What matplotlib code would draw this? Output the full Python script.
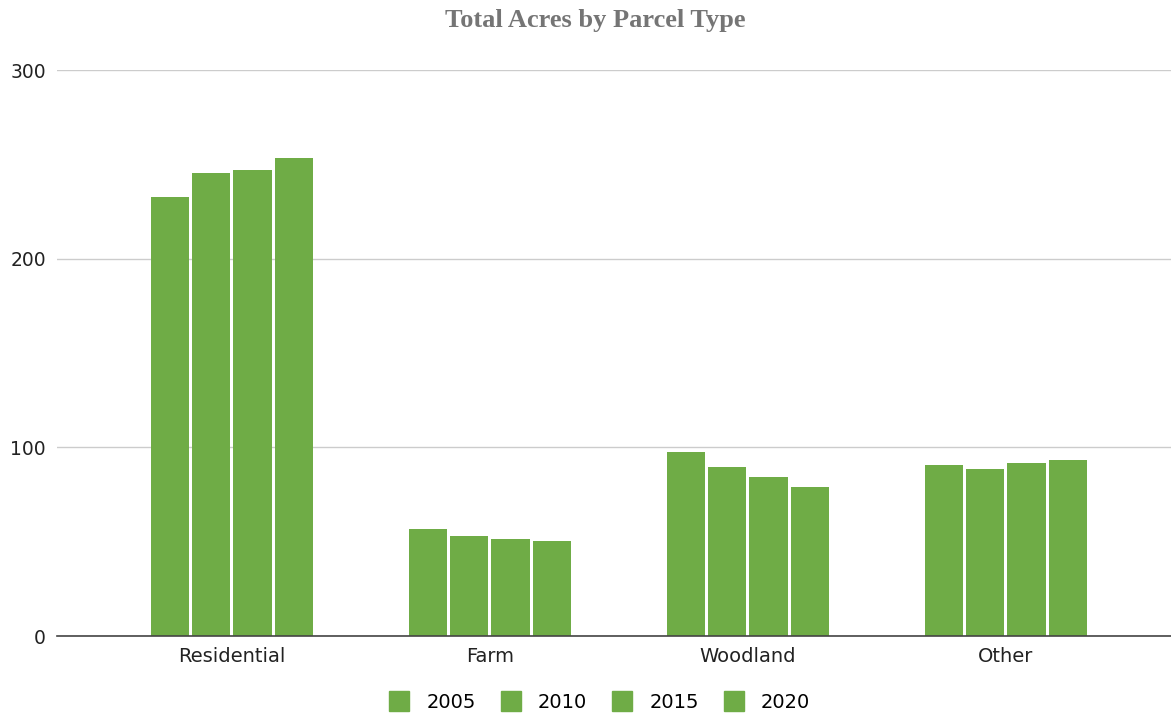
import numpy as np
import matplotlib.pyplot as plt

categories = ["Residential", "Farm", "Woodland", "Other"]
years = ["2005", "2010", "2015", "2020"]
acres_2005 = [232.7, 56.7, 97.5, 90.6]
acres_2010 = [245.2, 53.1, 89.6, 88.7]
acres_2015 = [247.0, 51.4, 84.1, 91.5]
acres_2020 = [253.2, 50.5, 78.8, 93.1]
series = [acres_2005, acres_2010, acres_2015, acres_2020]

green = "#6FAC46"

fig = plt.figure(figsize=(11.71, 7.17), dpi=100)
ax = fig.add_axes([57 / 1171, 1 - 636 / 717, 1 - 57 / 1171, 566 / 717])

x = np.arange(len(categories))
slot = 0.160
width = 0.148
for i, vals in enumerate(series):
    offset = (i - 1.5) * slot
    ax.bar(x + offset, vals, width, color=green, label=years[i], zorder=3)

ax.set_ylim(0, 300)
ax.set_xlim(-0.678, 3.64)
ax.set_yticks([0, 100, 200, 300])
ax.set_xticks(x)
ax.set_xticklabels(categories, fontsize=14, color="#222222")
ax.tick_params(axis="y", labelsize=13.5, labelcolor="#222222", length=0, pad=8)
ax.tick_params(axis="x", length=0, pad=8)
ax.grid(axis="y", color="#cccccc", linewidth=1, zorder=0)
for s in ["top", "right", "left"]:
    ax.spines[s].set_visible(False)
ax.spines["bottom"].set_color("#444444")
ax.spines["bottom"].set_linewidth(1.2)
ax.spines["bottom"].set_zorder(4)

fig.text(595 / 1171, 1 - 20 / 717, "Total Acres by Parcel Type", ha="center", va="center",
         fontsize=19, fontweight="bold", color="#757575", family="Liberation Serif")

handles = [plt.Line2D([], [], marker="s", linestyle="none", markersize=14,
                      markerfacecolor=green, markeredgecolor=green) for _ in years]
fig.legend(handles, years, loc="center", bbox_to_anchor=(595 / 1171, 1 - 702 / 717),
           ncol=4, frameon=False, fontsize=14, handletextpad=0.4, columnspacing=0.8)

fig.savefig("out.png", dpi=100)
